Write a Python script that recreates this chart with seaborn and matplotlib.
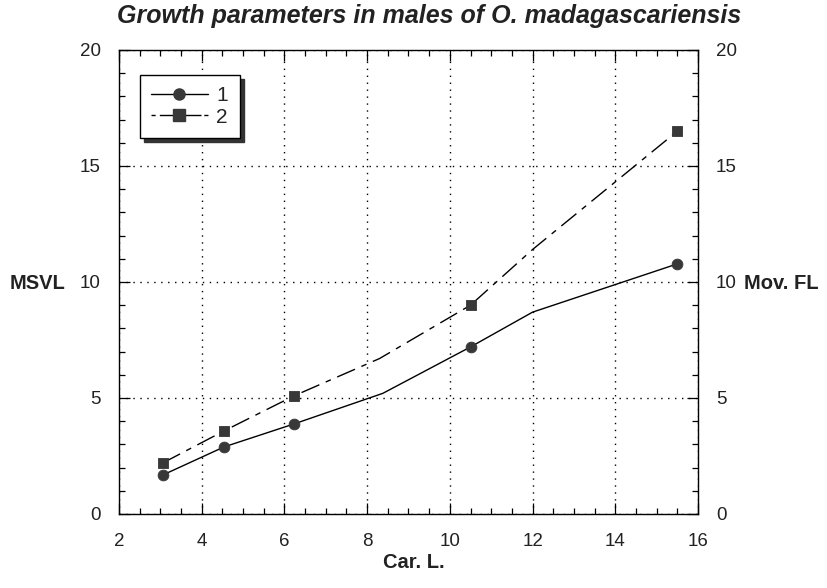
import matplotlib
matplotlib.use("Agg")
import matplotlib.pyplot as plt
import seaborn as sns
import pandas as pd
from matplotlib.lines import Line2D
from matplotlib.ticker import MultipleLocator

sns.set_theme(style="ticks")
plt.rcParams["font.family"] = ["Liberation Sans", "DejaVu Sans"]

# -----------------------------
# DATA
# -----------------------------
# marker positions
car_l = [3.06, 4.54, 6.23, 10.5, 15.5]
msvl = [1.68, 2.89, 3.88, 7.2, 10.78]
mov_fl = [2.2, 3.58, 5.09, 9.0, 16.5]

# line vertices (lines bend between markers)
car_l_1 = [3.06, 4.54, 6.23, 8.38, 10.5, 12.0, 15.5]
msvl_line = [1.68, 2.89, 3.88, 5.2, 7.2, 8.7, 10.78]
car_l_2 = [3.06, 4.54, 6.23, 8.3, 10.5, 12.0, 15.5]
mov_fl_line = [2.2, 3.58, 5.09, 6.7, 9.0, 11.4, 16.5]

TITLE = "Growth parameters in males of O. madagascariensis"
DASHDOT = (0, (14, 5, 4, 5))
MARKER_COLOR = "#383838"
TEXT_COLOR = "#222222"

df1 = pd.DataFrame({"x": car_l_1, "y": msvl_line})
df2 = pd.DataFrame({"x": car_l_2, "y": mov_fl_line})
pts = pd.DataFrame({"x": car_l, "msvl": msvl, "mov": mov_fl})

# -----------------------------
# PLOT
# -----------------------------
fig = plt.figure(figsize=(8.28, 5.88), dpi=100)
ax = fig.add_axes([0.1437, 0.1259, 0.6993, 0.7891])

sns.lineplot(data=df1, x="x", y="y", ax=ax, color="black", lw=1.0,
             sort=False, estimator=None)
sns.lineplot(data=df2, x="x", y="y", ax=ax, color="black", lw=1.0,
             linestyle=DASHDOT, sort=False, estimator=None)
sns.scatterplot(data=pts, x="x", y="msvl", ax=ax, marker="o", s=60,
                color=MARKER_COLOR, edgecolor=MARKER_COLOR, zorder=5)
sns.scatterplot(data=pts, x="x", y="mov", ax=ax, marker="s", s=60,
                color=MARKER_COLOR, edgecolor=MARKER_COLOR, zorder=5)

ax.set_xlim(2, 16)
ax.set_ylim(0, 20)
ax.xaxis.set_major_locator(MultipleLocator(2))
ax.xaxis.set_minor_locator(MultipleLocator(0.5))
ax.yaxis.set_major_locator(MultipleLocator(5))
ax.yaxis.set_minor_locator(MultipleLocator(1))
ax.tick_params(which="both", direction="in", top=True, right=True,
               labelsize=13.5, colors="black", width=0.9,
               labelcolor=TEXT_COLOR)
ax.tick_params(which="major", length=8)
ax.tick_params(which="minor", length=4)
ax.tick_params(axis="x", pad=14)
ax.tick_params(axis="y", labelright=True, pad=13)
ax.grid(True, which="major", linestyle=(0, (1, 4)), color="black", lw=1.0)

for sp in ax.spines.values():
    sp.set_visible(True)
    sp.set_color("black")
    sp.set_linewidth(1.0)

ax.set_xlabel("")
ax.set_ylabel("")
fig.text(0.5, 0.044, "Car. L.", fontsize=14.5, fontweight="bold",
         ha="center", va="center", color=TEXT_COLOR)
fig.text(0.012, 0.518, "MSVL", fontsize=14.5, fontweight="bold", va="center",
         color=TEXT_COLOR)
fig.text(0.8986, 0.518, "Mov. FL", fontsize=14.5, fontweight="bold",
         va="center", color=TEXT_COLOR)

fig.text(0.518, 0.973, TITLE, fontsize=18, fontweight="bold",
         fontstyle="italic", ha="center", va="center", color=TEXT_COLOR)

handles = [
    Line2D([], [], color="black", lw=1.0, marker="o", markersize=8,
           markerfacecolor=MARKER_COLOR, markeredgecolor=MARKER_COLOR),
    Line2D([], [], color="black", lw=1.0, linestyle=(0, (3, 3, 30, 2)),
           marker="s", markersize=8, markerfacecolor=MARKER_COLOR,
           markeredgecolor=MARKER_COLOR),
]
leg = ax.legend(handles, ["1", "2"], loc="upper left",
                bbox_to_anchor=(0.036, 0.946), borderaxespad=0,
                fontsize=15, handlelength=2.7, fancybox=False,
                edgecolor="black", framealpha=1,
                shadow={"color": "#333333", "alpha": 1, "ox": 3, "oy": -3},
                borderpad=0.55, labelspacing=0.1, handletextpad=0.43)
leg.get_frame().set_linewidth(1.0)

fig.savefig("out.png", dpi=100)
